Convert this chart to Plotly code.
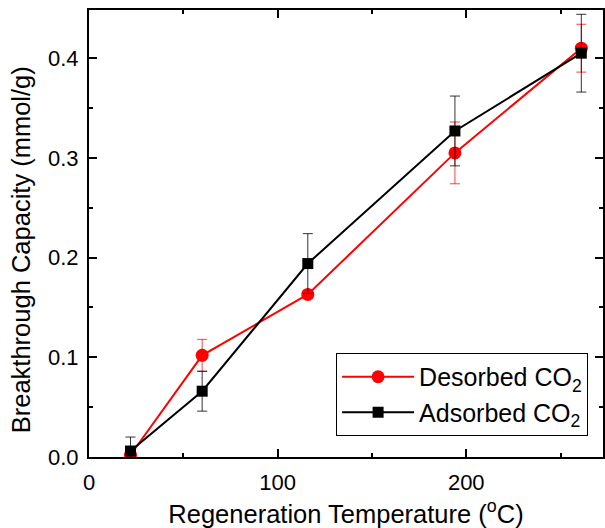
import plotly.graph_objects as go

# Regeneration temperature (°C)
temps = [22, 60, 116, 194, 261]

# Breakthrough capacity (mmol/g) and error estimates
desorbed = [0.002, 0.102, 0.163, 0.305, 0.410]
desorbed_err = [0.003, 0.016, 0.004, 0.031, 0.024]

adsorbed = [0.006, 0.066, 0.194, 0.327, 0.405]
adsorbed_err = [0.014, 0.020, 0.030, 0.035, 0.039]

FONT = "Liberation Sans, Arial, sans-serif"
W, H = 605, 528
L, R, T, B = 89, 0, 10, 71

fig = go.Figure()

fig.add_trace(go.Scatter(
    x=temps, y=desorbed, name="Desorbed CO<sub>2</sub>",
    mode="lines+markers",
    line=dict(color="#ff0000", width=2),
    marker=dict(symbol="circle", size=13, color="#ff0000"),
    error_y=dict(type="data", array=desorbed_err, visible=True,
                 color="rgba(255,0,0,0.75)", thickness=1, width=5),
))

fig.add_trace(go.Scatter(
    x=temps, y=adsorbed, name="Adsorbed CO<sub>2</sub>",
    mode="lines+markers",
    line=dict(color="#000000", width=2),
    marker=dict(symbol="square", size=11, color="#000000"),
    error_y=dict(type="data", array=adsorbed_err, visible=True,
                 color="rgba(0,0,0,0.8)", thickness=1, width=5),
))

axis_common = dict(
    showline=True, linecolor="black", linewidth=2,
    mirror="ticks", ticks="inside", ticklen=8, tickwidth=1.5, tickcolor="black",
    showgrid=False, zeroline=False,
    tickfont=dict(family=FONT, size=22, color="black"),
)

fig.update_xaxes(
    range=[0, 272.5], tickvals=[0, 100, 200],
    minor=dict(dtick=50, tick0=0, ticks="inside", ticklen=4, tickwidth=1.5,
               tickcolor="black", showgrid=False),
    title=dict(text="Regeneration Temperature (<sup>o</sup>C)",
               font=dict(family=FONT, size=25.5, color="black"), standoff=12),
    ticklabelstandoff=5,
    **axis_common,
)

fig.update_yaxes(
    range=[0, 0.4483], tickvals=[0.0, 0.1, 0.2, 0.3, 0.4], tickformat=".1f",
    minor=dict(dtick=0.05, tick0=0, ticks="inside", ticklen=4, tickwidth=1.5,
               tickcolor="black", showgrid=False),
    ticklabelstandoff=4,
    **axis_common,
)

# y-axis title, set slightly below the middle of the axis
plot_w = W - L - R
plot_h = H - T - B
fig.add_annotation(
    text="Breakthrough Capacity (mmol/g)",
    xref="paper", yref="paper",
    x=(21 - L) / plot_w, y=(H - B - 250) / plot_h,
    xanchor="center", yanchor="middle", textangle=-90, showarrow=False,
    font=dict(family=FONT, size=25.5, color="black"),
)

fig.update_layout(
    width=W, height=H,
    margin=dict(l=L, r=R, t=T, b=B),
    paper_bgcolor="white", plot_bgcolor="white",
    font=dict(family=FONT, color="black"),
    legend=dict(
        x=0.971, y=0.047, xanchor="right", yanchor="bottom",
        bgcolor="white", bordercolor="black", borderwidth=1,
        font=dict(family=FONT, size=25, color="black"),
        tracegroupgap=0, itemwidth=72,
    ),
)

fig.write_html("out.html")
